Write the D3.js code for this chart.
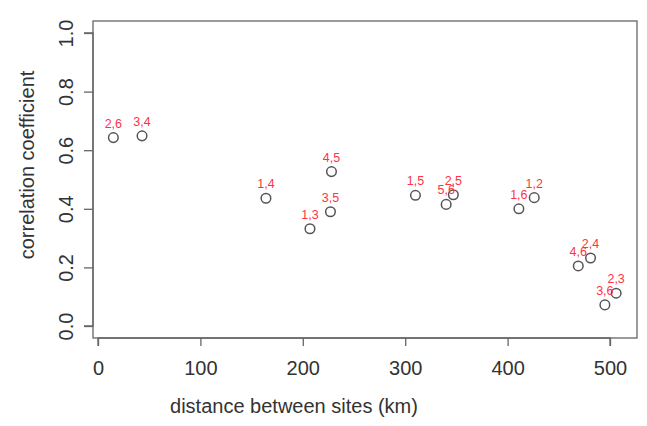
<!DOCTYPE html>
<html>
<head>
<meta charset="utf-8">
<script src="https://cdn.jsdelivr.net/npm/d3@7"></script>
<style>
  body { margin: 0; background: #fff; }
  text { font-family: 'Liberation Sans', Arial, sans-serif; }
</style>
</head>
<body>
<svg id="chart"></svg>
<script>
// site pairs, distance (km) and correlation
let pairs = ["2,6", "3,4", "1,4", "1,3", "3,5", "4,5", "1,5", "5,6", "2,5", "1,6", "1,2", "4,6", "2,4", "3,6", "2,3"];
let distances = [15, 43, 164, 207, 227, 228, 310, 340, 347, 411, 426, 469, 481, 495, 506];
let correlations = [0.643, 0.649, 0.436, 0.332, 0.390, 0.527, 0.446, 0.415, 0.448, 0.400, 0.438, 0.205, 0.232, 0.072, 0.112];
let xTicks = [0, 100, 200, 300, 400, 500];
let yTicks = [0, 0.2, 0.4, 0.6, 0.8, 1.0];

let w = 647, h = 426;
let box = {left: 93, right: 637, top: 21, bottom: 338};
let textCol = "#333", axisCol = "#666";
let fontFamily = "'Liberation Sans', Arial, sans-serif";

let svg = d3.select("#chart").attr("width", w).attr("height", h);

let x = d3.scaleLinear().domain([0, 500]).range([98, 610]);
let y = d3.scaleLinear().domain([0, 1]).range([326, 33]);

// plot frame
svg.append("rect")
   .attr("x", box.left).attr("y", box.top)
   .attr("width", box.right - box.left).attr("height", box.bottom - box.top)
   .attr("fill", "none").attr("stroke", axisCol).attr("stroke-width", 1.3);

// x axis
let xAxis = svg.append("g")
   .attr("transform", `translate(0,${box.bottom})`)
   .call(d3.axisBottom(x).tickValues(xTicks).tickSize(8).tickPadding(15).tickFormat(d3.format("d")));
xAxis.select(".domain").attr("stroke", axisCol).attr("stroke-width", 1.3)
   .attr("d", `M${x(0)},8V0H${x(500)}V8`);
xAxis.selectAll(".tick line").attr("stroke", axisCol).attr("stroke-width", 1.3);
xAxis.selectAll(".tick text").attr("font-size", 20).attr("fill", textCol)
   .attr("font-family", fontFamily);

// y axis
let yAxis = svg.append("g")
   .attr("transform", `translate(${box.left},0)`)
   .call(d3.axisLeft(y).tickValues(yTicks).tickSize(9).tickFormat(d3.format(".1f")));
yAxis.select(".domain").attr("stroke", axisCol).attr("stroke-width", 1.3)
   .attr("d", `M-9,${y(0)}H0V${y(1)}H-9`);
yAxis.selectAll(".tick line").attr("stroke", axisCol).attr("stroke-width", 1.3);
yAxis.selectAll(".tick text")
   .attr("font-size", 20).attr("fill", textCol)
   .attr("font-family", fontFamily)
   .attr("x", null)
   .attr("text-anchor", "middle")
   .attr("transform", "translate(-27,0) rotate(-90)")
   .attr("dy", "0.35em");

// axis titles
svg.append("text")
   .attr("x", 294).attr("y", 413)
   .attr("text-anchor", "middle").attr("font-size", 20).attr("fill", textCol)
   .text("distance between sites (km)");

svg.append("text")
   .attr("transform", `translate(34,165) rotate(-90)`)
   .attr("text-anchor", "middle").attr("font-size", 20).attr("fill", textCol)
   .text("correlation coefficient");

let data = pairs.map((p, i) => ({pair: p, dist: distances[i], r: correlations[i]}));

// points
svg.selectAll(".pt")
   .data(data)
   .enter()
   .append("circle")
   .attr("class", "pt")
   .attr("cx", d => x(d.dist))
   .attr("cy", d => y(d.r))
   .attr("r", 4.8)
   .attr("fill", "none")
   .attr("stroke", "#555")
   .attr("stroke-width", 1.5);

// pair labels
svg.selectAll(".lbl")
   .data(data)
   .enter()
   .append("text")
   .attr("class", "lbl")
   .attr("x", d => x(d.dist))
   .attr("y", d => y(d.r) - 10)
   .attr("text-anchor", "middle")
   .attr("font-size", 12.5)
   .attr("fill", "#ff3344")
   .text(d => d.pair);
</script>
</body>
</html>
